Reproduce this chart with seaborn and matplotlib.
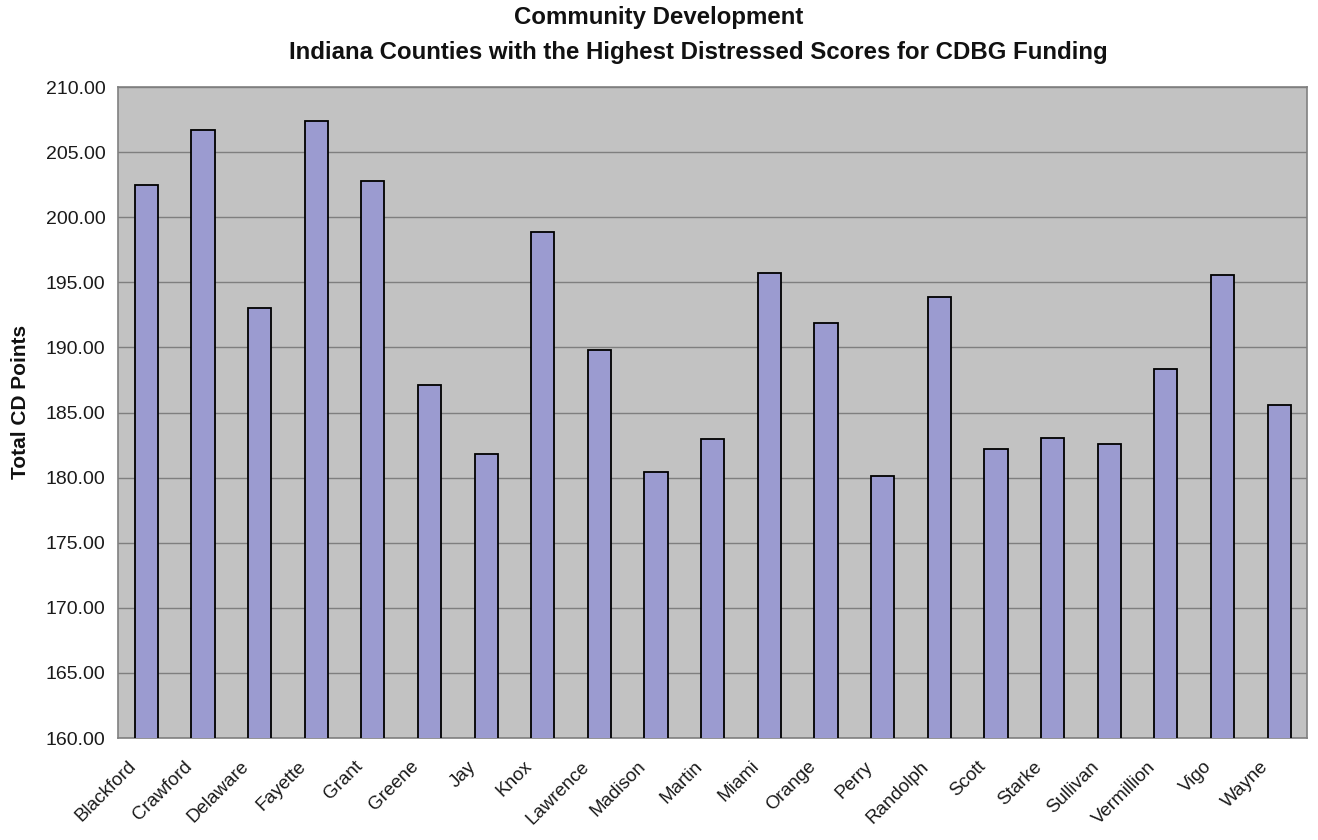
import numpy as np
import pandas as pd
import seaborn as sns
import matplotlib.pyplot as plt
from matplotlib.ticker import FormatStrFormatter
from matplotlib.transforms import ScaledTranslation

# counties and their total CD points
counties = ["Blackford", "Crawford", "Delaware", "Fayette", "Grant", "Greene", "Jay",
            "Knox", "Lawrence", "Madison", "Martin", "Miami", "Orange", "Perry",
            "Randolph", "Scott", "Starke", "Sullivan", "Vermillion", "Vigo", "Wayne"]
points = [202.5, 206.7, 193.0, 207.4, 202.8, 187.1, 181.8,
          198.85, 189.8, 180.45, 183.0, 195.7, 191.85, 180.15,
          193.9, 182.2, 183.05, 182.6, 188.35, 195.6, 185.6]
y_ticks = [160, 165, 170, 175, 180, 185, 190, 195, 200, 205, 210]

df = pd.DataFrame({"county": counties, "points": points})

sns.set_style("white")
plt.rcParams["font.family"] = ["Liberation Sans", "DejaVu Sans"]

fig = plt.figure(figsize=(13.18, 8.4), dpi=100)
ax = fig.add_axes([0.0895, 0.1214, 0.9025, 0.775])
ax.set_facecolor("#c2c2c2")

sns.barplot(data=df, x="county", y="points", color="#9b9bd0", saturation=1,
            edgecolor="black", linewidth=1.3, width=0.41, ax=ax, zorder=3)

ax.set_ylim(160, 210)
ax.set_yticks(y_ticks)
ax.yaxis.set_major_formatter(FormatStrFormatter("%.2f"))
ax.grid(axis="y", color="#7f7f7f", linewidth=1.0, zorder=0)
ax.set_axisbelow(True)
ax.set_xlim(-0.5, len(counties) - 0.5)

# tick marks between categories, like the original
ax.set_xticks(np.arange(-0.5, len(counties), 1), minor=True)
ax.tick_params(axis="x", which="major", length=0, pad=0)
ax.tick_params(axis="x", which="minor", length=5, color="#808080")
ax.tick_params(axis="y", length=5, color="#808080", labelsize=14, labelcolor="#1a1a1a", pad=4)

offset = ScaledTranslation(-0.19, -0.2, fig.dpi_scale_trans)
for lab in ax.get_xticklabels():
    lab.set_rotation(45)
    lab.set_ha("right")
    lab.set_va("top")
    lab.set_rotation_mode("anchor")
    lab.set_fontsize(13.5)
    lab.set_color("#1a1a1a")
    lab.set_transform(lab.get_transform() + offset)

for side in ["top", "right", "left", "bottom"]:
    ax.spines[side].set_color("#808080")
    ax.spines[side].set_linewidth(1.2)

ax.set_xlabel("")
ax.set_ylabel("Total CD Points", fontsize=15, fontweight="bold", color="#111111")
ax.yaxis.set_label_coords(-0.074, 0.517)

fig.text(0.5, 0.979, "Community Development", ha="center", va="center",
         fontsize=17.3, fontweight="bold", color="#111111")
fig.text(0.5296, 0.938, "Indiana Counties with the Highest Distressed Scores for CDBG Funding",
         ha="center", va="center", fontsize=17.3, fontweight="bold", color="#111111")

fig.savefig("out.png", dpi=100)
